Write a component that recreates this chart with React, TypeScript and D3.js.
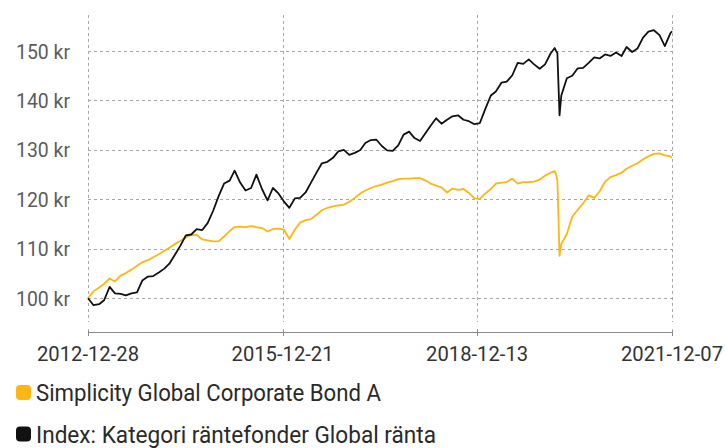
import React from "react";
import * as d3 from "d3";

const dates = [
  "2012-12-28",
  "2013-01-28", "2013-02-28", "2013-03-28", "2013-04-28", "2013-05-28", "2013-06-28",
  "2013-07-28", "2013-08-28", "2013-09-28", "2013-10-28", "2013-11-28", "2013-12-28",
  "2014-01-28", "2014-02-28", "2014-03-28", "2014-04-28", "2014-05-28", "2014-06-28",
  "2014-07-28", "2014-08-28", "2014-09-28", "2014-10-28", "2014-11-28", "2014-12-28",
  "2015-01-28", "2015-02-28", "2015-03-28", "2015-04-28", "2015-05-28", "2015-06-28",
  "2015-07-28", "2015-08-28", "2015-09-28", "2015-10-28", "2015-11-28", "2015-12-28",
  "2016-01-28", "2016-02-28", "2016-03-28", "2016-04-28", "2016-05-28", "2016-06-28",
  "2016-07-28", "2016-08-28", "2016-09-28", "2016-10-28", "2016-11-28", "2016-12-28",
  "2017-01-28", "2017-02-28", "2017-03-28", "2017-04-28", "2017-05-28", "2017-06-28",
  "2017-07-28", "2017-08-28", "2017-09-28", "2017-10-28", "2017-11-28", "2017-12-28",
  "2018-01-28", "2018-02-28", "2018-03-28", "2018-04-28", "2018-05-28", "2018-06-28",
  "2018-07-28", "2018-08-28", "2018-09-28", "2018-10-28", "2018-11-28", "2018-12-28",
  "2019-01-28", "2019-02-28", "2019-03-28", "2019-04-28", "2019-05-28", "2019-06-28",
  "2019-07-28", "2019-08-28", "2019-09-28", "2019-10-28", "2019-11-28", "2019-12-28",
  "2020-01-28", "2020-02-20", "2020-02-28", "2020-03-06", "2020-03-18", "2020-03-28",
  "2020-04-28", "2020-05-28", "2020-06-28", "2020-07-28", "2020-08-28", "2020-09-28",
  "2020-10-28", "2020-11-28", "2020-12-28",
  "2021-01-28", "2021-02-28", "2021-03-28", "2021-04-28", "2021-05-28", "2021-06-28",
  "2021-07-28", "2021-08-28", "2021-09-28", "2021-10-28", "2021-11-28", "2021-12-07",
];

const fundValues = [
  100.0,
  101.4, 102.2, 102.9, 104.0, 103.4, 104.6, 105.1, 105.8, 106.6, 107.3, 107.7, 108.3,
  108.9, 109.6, 110.2, 111.0, 111.6, 112.3, 112.8, 112.8, 111.9, 111.7, 111.5, 111.5,
  112.5, 113.6, 114.4, 114.5, 114.4, 114.6, 114.4, 114.2, 113.5, 114.0, 114.1, 113.9,
  112.0, 113.9, 115.3, 115.8, 116.0, 116.9, 117.8, 118.3, 118.6, 118.8, 118.9, 119.5,
  120.3, 121.2, 121.8, 122.3, 122.7, 123.0, 123.4, 123.7, 124.1, 124.2, 124.2, 124.3,
  124.3, 123.8, 123.2, 122.8, 122.4, 121.4, 122.2, 121.9, 122.1, 121.3, 120.2, 120.1,
  121.2, 122.1, 123.2, 123.4, 123.5, 124.2, 123.2, 123.5, 123.5, 123.6, 124.0, 124.8,
  125.4, 125.7, 125.0, 123.8, 108.6, 111.0,
  113.0, 116.5, 117.9, 119.2, 120.8, 120.3, 121.6, 123.6, 124.5,
  124.9, 125.4, 126.2, 126.8, 127.3, 128.1, 128.7, 129.2, 129.3, 128.9, 128.7, 128.4,
];

const indexValues = [
  100.0,
  98.6, 98.8, 99.6, 102.3, 101.0, 100.9, 100.6, 101.0, 101.2, 103.6, 104.4, 104.5,
  105.2, 106.0, 107.0, 108.8, 110.6, 112.7, 112.9, 114.0, 113.8, 115.2, 117.7, 120.6,
  123.2, 123.8, 125.8, 123.4, 121.8, 122.3, 125.0, 122.1, 119.8, 122.3, 121.2, 119.6,
  118.3, 120.2, 120.3, 121.4, 123.4, 125.4, 127.3, 127.6, 128.4, 129.7, 130.0, 129.0,
  129.4, 130.0, 131.4, 132.0, 132.1, 130.8, 129.9, 129.8, 130.9, 133.1, 133.7, 132.4,
  131.8, 133.4, 134.9, 136.4, 135.3, 136.1, 136.8, 137.0, 136.1, 135.8, 135.2, 135.4,
  138.3, 141.0, 141.8, 143.6, 143.8, 145.1, 147.6, 147.4, 148.3, 147.3, 146.4, 147.3,
  149.5, 150.6, 150.0, 149.6, 137.0, 141.0,
  144.5, 145.0, 146.5, 146.6, 147.6, 148.7, 148.5, 149.3, 149.0,
  149.7, 149.0, 150.8, 149.8, 150.5, 152.7, 153.9, 154.2, 153.2, 151.0, 153.6, 154.0,
];

const yTicks = [100, 110, 120, 130, 140, 150];
const xTickDates = ["2012-12-28", "2015-12-21", "2018-12-13", "2021-12-07"];
const seriesNames = [
  "Simplicity Global Corporate Bond A",
  "Index: Kategori räntefonder Global ränta",
];
const seriesColors = ["#ffb612", "#111111"];

const parse = d3.timeParse("%Y-%m-%d");

export default function App() {
  const W = 726;
  const H = 448;
  const left = 88;
  const right = 672;
  const top = 15;
  const gridBottom = 322;
  const axisY = 332.5;

  const x = d3
    .scaleTime()
    .domain([parse("2012-12-28")!, parse("2021-12-07")!])
    .range([left, right]);
  const y = d3.scaleLinear().domain([100, 150]).range([298.3, 51]);

  const parsed = dates.map((d) => parse(d)!);
  const line = d3
    .line<number>()
    .x((_, i) => x(parsed[i]))
    .y((v) => y(v))
    .curve(d3.curveLinear);

  const font = "Roboto, 'Noto Sans', sans-serif";

  return (
    <svg
      width={W}
      height={H}
      style={{ position: "absolute", left: 0, top: 0, display: "block", background: "#fff" }}
    >
      {yTicks.map((t) => (
        <line
          key={"h" + t}
          x1={left}
          x2={right}
          y1={Math.round(y(t)) + 0.5}
          y2={Math.round(y(t)) + 0.5}
          stroke="#a8a8a8"
          strokeWidth={1}
          strokeDasharray="3,3"
        />
      ))}
      {xTickDates.map((d) => {
        const xx = Math.round(x(parse(d)!)) + 0.5;
        return (
          <line
            key={"v" + d}
            x1={xx}
            x2={xx}
            y1={top}
            y2={gridBottom}
            stroke="#a8a8a8"
            strokeWidth={1}
            strokeDasharray="3,3"
          />
        );
      })}
      <line x1={left} x2={right + 0.5} y1={axisY} y2={axisY} stroke="#8a8a8a" strokeWidth={1} />
      {xTickDates.map((d) => {
        const xx = Math.round(x(parse(d)!)) + 0.5;
        return (
          <g key={"t" + d}>
            <line x1={xx} x2={xx} y1={329.5} y2={336} stroke="#8a8a8a" strokeWidth={1} />
            <text
              x={x(parse(d)!)}
              y={361}
              textAnchor="middle"
              fontFamily={font}
              fontSize={21}
              fill="#333"
              textLength={102}
              lengthAdjust="spacingAndGlyphs"
            >
              {d}
            </text>
          </g>
        );
      })}
      {yTicks.map((t) => (
        <text
          key={"yl" + t}
          x={70}
          y={y(t) + 7.5}
          textAnchor="end"
          fontFamily={font}
          fontSize={21}
          fill="#5c5c5c"
          textLength={54}
          lengthAdjust="spacingAndGlyphs"
        >
          {t + " kr"}
        </text>
      ))}
      <path
        d={line(fundValues) || ""}
        fill="none"
        stroke={seriesColors[0]}
        strokeWidth={1.8}
        strokeLinejoin="round"
      />
      <path
        d={line(indexValues) || ""}
        fill="none"
        stroke={seriesColors[1]}
        strokeWidth={1.8}
        strokeLinejoin="round"
      />
      {seriesNames.map((name, i) => {
        const cy = 392.5 + i * 41.5;
        return (
          <g key={name}>
            <rect x={16} y={cy - 7.5} width={15} height={15} rx={4} fill={seriesColors[i]} />
            <text
              x={36}
              y={cy + 8.5}
              fontFamily={font}
              fontSize={23}
              fill="#2a2a2a"
              textLength={i === 0 ? 345 : 400}
              lengthAdjust="spacingAndGlyphs"
            >
              {name}
            </text>
          </g>
        );
      })}
    </svg>
  );
}
